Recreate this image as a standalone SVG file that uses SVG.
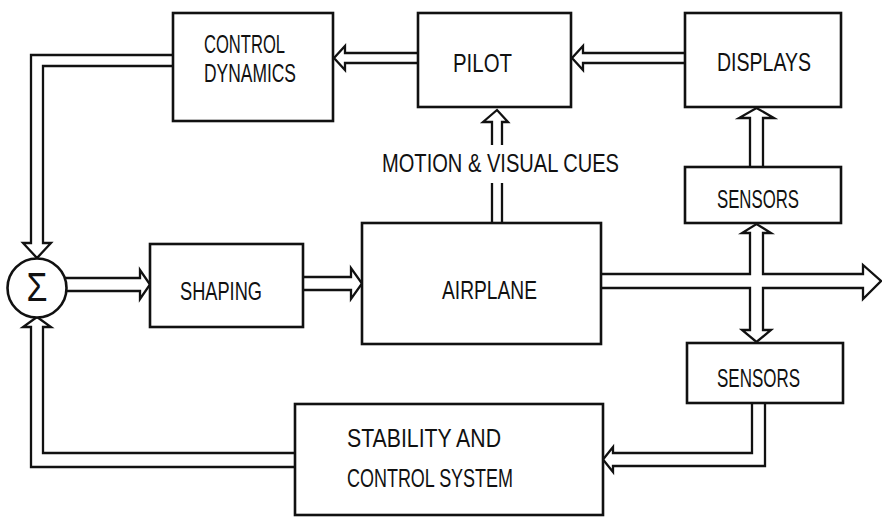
<svg xmlns="http://www.w3.org/2000/svg" width="882" height="518" viewBox="0 0 882 518">
<style>
.box{fill:#fff;stroke:#111;stroke-width:2.6}
.c{fill:none;stroke:#111;stroke-width:2.3;stroke-linejoin:miter}
.t{font-family:"Liberation Sans","DejaVu Sans",sans-serif;font-size:25px;fill:#111}
</style>
<rect width="882" height="518" fill="#fff"/>
<g id="connectors">
<path class="c" d="M173,55 H31 V243 H23 L37,258 L51,243 H43 V66 H173"/>
<path class="c" d="M418,53 H345 V46 L334,58 L345,70 V63 H418"/>
<path class="c" d="M685,53 H583 V46 L572,58 L583,70 V63 H685"/>
<path class="c" d="M750,167 V118 H739 L756.5,108 L774,118 H763 V167"/>
<path class="c" d="M492,145 V122 H483 L497,110 L508,122 H502 V145"/>
<path class="c" d="M492,183 V223 M502,183 V223"/>
<path class="c" d="M64,278 H140 V270 L150,284.5 L140,299 V291 H66"/>
<path class="c" d="M303,277 H351 V268 L362,283.5 L351,299 V290 H303"/>
<path class="c" d="M601,274 H750 V233 H742 L756.5,224 L771,233 H763 V274 H863 V265 L881,281 L863,299 V288 H763 V330 H771 L756.5,342 L742,330 H750 V288 H601"/>
<path class="c" d="M752,403 V453 H613 V447 L603,459.5 L613,472 V466 H765 V403"/>
<path class="c" d="M295,453 H43 V327 H51 L37,317 L23,327 H31 V467 H295"/>
</g>
<g id="sum">
<circle cx="37" cy="288" r="29.5" fill="#fff" stroke="#111" stroke-width="2.6"/>
<text x="37" y="301" text-anchor="middle" font-family="Liberation Sans,DejaVu Sans,sans-serif" font-size="40" textLength="21" lengthAdjust="spacingAndGlyphs" fill="#111">Σ</text>
</g>
<g id="control-dynamics">
<rect class="box" x="173" y="13" width="160" height="108"/>
<text class="t" x="204" y="53" textLength="81" lengthAdjust="spacingAndGlyphs">CONTROL</text>
<text class="t" x="204" y="82" textLength="92" lengthAdjust="spacingAndGlyphs">DYNAMICS</text>
</g>
<g id="pilot">
<rect class="box" x="418" y="13" width="153" height="94"/>
<text class="t" x="453" y="72" textLength="59" lengthAdjust="spacingAndGlyphs">PILOT</text>
</g>
<g id="displays">
<rect class="box" x="685" y="13" width="156" height="94"/>
<text class="t" x="717" y="71" textLength="94" lengthAdjust="spacingAndGlyphs">DISPLAYS</text>
</g>
<g id="cues-label">
<text class="t" x="382" y="172" font-size="27" textLength="237" lengthAdjust="spacingAndGlyphs">MOTION &amp; VISUAL CUES</text>
</g>
<g id="sensors-upper">
<rect class="box" x="685" y="167" width="156" height="56"/>
<text class="t" x="717" y="208" textLength="82" lengthAdjust="spacingAndGlyphs">SENSORS</text>
</g>
<g id="shaping">
<rect class="box" x="150" y="244" width="153" height="83"/>
<text class="t" x="180" y="300" textLength="82" lengthAdjust="spacingAndGlyphs">SHAPING</text>
</g>
<g id="airplane">
<rect class="box" x="362" y="223" width="239" height="121"/>
<text class="t" x="442" y="299" textLength="95" lengthAdjust="spacingAndGlyphs">AIRPLANE</text>
</g>
<g id="sensors-lower">
<rect class="box" x="687" y="343" width="156" height="60"/>
<text class="t" x="717" y="387" textLength="83" lengthAdjust="spacingAndGlyphs">SENSORS</text>
</g>
<g id="stability">
<rect class="box" x="295" y="404" width="308" height="111"/>
<text class="t" x="347" y="447" textLength="154" lengthAdjust="spacingAndGlyphs">STABILITY AND</text>
<text class="t" x="347" y="487" textLength="166" lengthAdjust="spacingAndGlyphs">CONTROL SYSTEM</text>
</g>
</svg>
